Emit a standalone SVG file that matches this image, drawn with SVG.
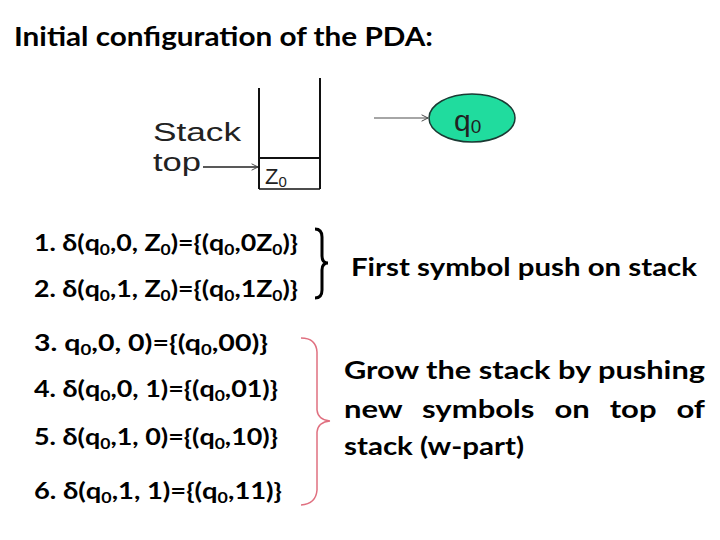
<svg xmlns="http://www.w3.org/2000/svg" width="720" height="540" viewBox="0 0 720 540">
<style>
.t{font-family:Lato,"Open Sans","Liberation Sans",sans-serif;font-weight:bold;fill:#000}
.ar{font-family:"Liberation Sans",Arial,sans-serif;fill:#222}
.ln{stroke:#111;stroke-width:2;fill:none}
.s{font-size:15px}
</style>
<defs>
<marker id="open" viewBox="0 0 10 10" refX="9" refY="5" markerWidth="8" markerHeight="8" orient="auto" markerUnits="userSpaceOnUse">
<path d="M1,1 L9,5 L1,9" fill="none" stroke="#444" stroke-width="1.2"/>
</marker>
</defs>
<rect width="720" height="540" fill="#fff"/>
<text class="t" x="14" y="46" font-size="26" textLength="419" lengthAdjust="spacingAndGlyphs">Initial configuration of the PDA:</text>

<g id="stack">
<line class="ln" x1="259" y1="88" x2="259" y2="189"/>
<line class="ln" x1="320" y1="78" x2="320" y2="189"/>
<line class="ln" x1="259" y1="158" x2="320" y2="158"/>
<line x1="259" y1="189" x2="320" y2="189" stroke="#111" stroke-width="1.5"/>
<text class="ar" x="265" y="184" font-size="22">Z<tspan font-size="15" dy="3">0</tspan></text>
</g>
<g id="stack-label">
<text class="ar" x="153" y="141" font-size="25" textLength="88" lengthAdjust="spacingAndGlyphs">Stack</text>
<text class="ar" x="153" y="171" font-size="25" textLength="48" lengthAdjust="spacingAndGlyphs">top</text>
</g>
<g id="q0">
<ellipse cx="472" cy="118" rx="43" ry="24" fill="#20dc9e" stroke="#1a3a33" stroke-width="1.5"/>
<text class="ar" x="454" y="131" font-size="30" fill="#111">q<tspan font-size="19" dy="2">0</tspan></text>
</g>
<g id="connectors">
<line x1="203" y1="167" x2="258" y2="167" stroke="#222" stroke-width="1.5" marker-end="url(#open)"/>
<line x1="374" y1="118" x2="428" y2="118" stroke="#888" stroke-width="1.5" marker-end="url(#open)"/>
</g>

<g id="rules-1-2">
<text class="t" x="34" y="251" font-size="23" textLength="264" lengthAdjust="spacingAndGlyphs">1. δ(q<tspan class="s" dy="4">0</tspan><tspan dy="-4">,0, Z</tspan><tspan class="s" dy="4">0</tspan><tspan dy="-4">)={(q</tspan><tspan class="s" dy="4">0</tspan><tspan dy="-4">,0Z</tspan><tspan class="s" dy="4">0</tspan><tspan dy="-4">)}</tspan></text>
<text class="t" x="34" y="297" font-size="23" textLength="264" lengthAdjust="spacingAndGlyphs">2. δ(q<tspan class="s" dy="4">0</tspan><tspan dy="-4">,1, Z</tspan><tspan class="s" dy="4">0</tspan><tspan dy="-4">)={(q</tspan><tspan class="s" dy="4">0</tspan><tspan dy="-4">,1Z</tspan><tspan class="s" dy="4">0</tspan><tspan dy="-4">)}</tspan></text>
<path d="M315,229 Q322,229 322,237 L322,256 Q322,263 328,263 Q322,263 322,270 L322,290 Q322,298 315,298" fill="none" stroke="#000" stroke-width="3"/>
<text class="t" x="351" y="276" font-size="24" textLength="346" lengthAdjust="spacingAndGlyphs">First symbol push on stack</text>
</g>

<g id="rules-3-6">
<text class="t" x="34" y="351" font-size="23" textLength="234" lengthAdjust="spacingAndGlyphs">3. q<tspan class="s" dy="4">0</tspan><tspan dy="-4">,0, 0)={(q</tspan><tspan class="s" dy="4">0</tspan><tspan dy="-4">,00)}</tspan></text>
<text class="t" x="34" y="397" font-size="23" textLength="244" lengthAdjust="spacingAndGlyphs">4. δ(q<tspan class="s" dy="4">0</tspan><tspan dy="-4">,0, 1)={(q</tspan><tspan class="s" dy="4">0</tspan><tspan dy="-4">,01)}</tspan></text>
<text class="t" x="34" y="445" font-size="23" textLength="244" lengthAdjust="spacingAndGlyphs">5. δ(q<tspan class="s" dy="4">0</tspan><tspan dy="-4">,1, 0)={(q</tspan><tspan class="s" dy="4">0</tspan><tspan dy="-4">,10)}</tspan></text>
<text class="t" x="34" y="499" font-size="23" textLength="248" lengthAdjust="spacingAndGlyphs">6. δ(q<tspan class="s" dy="4">0</tspan><tspan dy="-4">,1, 1)={(q</tspan><tspan class="s" dy="4">0</tspan><tspan dy="-4">,11)}</tspan></text>
<path d="M301,338 Q316,338 317,352 L317,410 Q318,420 330,421 Q318,422 317,432 L317,490 Q316,504 301,505" fill="none" stroke="#e07080" stroke-width="1.5"/>
<text class="t" x="344" y="379" font-size="25" textLength="361" lengthAdjust="spacingAndGlyphs">Grow the stack by pushing</text>
<text class="t" x="344" y="418" font-size="25" textLength="361" lengthAdjust="spacingAndGlyphs" word-spacing="10">new symbols on top of</text>
<text class="t" x="344" y="455" font-size="25" textLength="180" lengthAdjust="spacingAndGlyphs">stack (w-part)</text>
</g>
</svg>
